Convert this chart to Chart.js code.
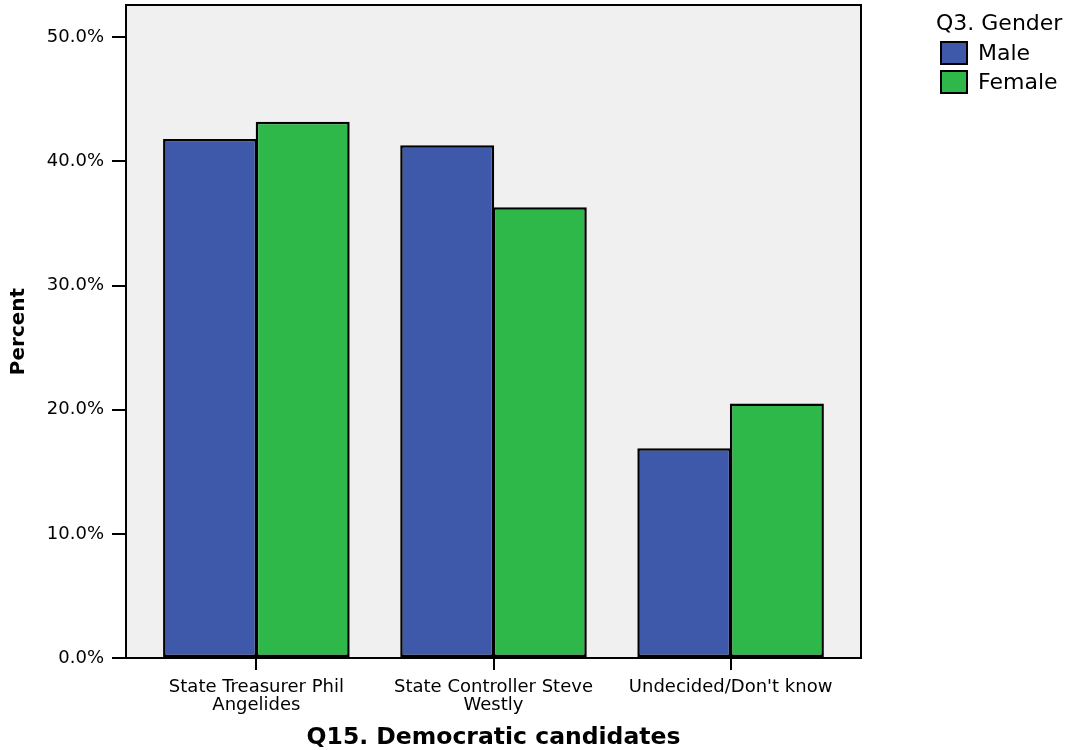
<!DOCTYPE html>
<html>
<head>
<meta charset="utf-8">
<script src="https://cdn.jsdelivr.net/npm/chart.js@4.4.1/dist/chart.umd.min.js"></script>
<style>
  body { margin: 0; background: #fff; }
  canvas { display: block; }
</style>
</head>
<body>
<canvas id="chart" width="1071" height="750"></canvas>
<script>
// data (percent)
const categories = [
  ['State Treasurer Phil', 'Angelides'],
  ['State Controller Steve', 'Westly'],
  "Undecided/Don't know"
];
const maleValues = [41.8, 41.3, 16.9];
const femaleValues = [43.2, 36.3, 20.5];
const yTicks = [0, 10, 20, 30, 40, 50];
const seriesNames = ['Male', 'Female'];
const legendTitle = 'Q3. Gender';

const BLUE = '#3E58AA';
const GREEN = '#2FB84A';
const FONT = "'DejaVu Sans', sans-serif";

// plot background, frame and legend
const frame = {
  id: 'frame',
  beforeDraw(chart) {
    const { ctx, chartArea: a } = chart;
    ctx.save();
    ctx.fillStyle = '#F0F0F0';
    ctx.fillRect(a.left, a.top, a.right - a.left, a.bottom - a.top);
    ctx.restore();
  },
  afterDraw(chart) {
    const { ctx, chartArea: a } = chart;
    ctx.save();
    ctx.strokeStyle = '#000';
    ctx.lineWidth = 2;
    ctx.strokeRect(a.left, a.top, a.right - a.left, a.bottom - a.top);

    ctx.font = '22px ' + FONT;
    ctx.fillStyle = '#000';
    ctx.textBaseline = 'middle';
    ctx.fillText(legendTitle, 936, 24);
    const colors = [BLUE, GREEN];
    seriesNames.forEach((name, i) => {
      const y = 42 + i * 29;
      ctx.fillStyle = colors[i];
      ctx.fillRect(941, y, 26, 22);
      ctx.strokeRect(941, y, 26, 22);
      ctx.fillStyle = '#000';
      ctx.fillText(name, 978, y + 12);
    });
    ctx.restore();
  }
};

const toPoints = arr => arr.map((y, i) => ({ x: i, y }));

new Chart(document.getElementById('chart'), {
  type: 'bar',
  data: {
    datasets: [
      { label: seriesNames[0], data: toPoints(maleValues), backgroundColor: BLUE },
      { label: seriesNames[1], data: toPoints(femaleValues), backgroundColor: GREEN }
    ]
  },
  options: {
    responsive: false,
    animation: false,
    layout: { padding: { top: 5, right: 210, left: 0, bottom: 0 } },
    datasets: {
      bar: {
        borderColor: '#000',
        borderWidth: 2.5,
        borderSkipped: false,
        categoryPercentage: 0.781,
        barPercentage: 1.015
      }
    },
    plugins: {
      legend: { display: false },
      tooltip: { enabled: false }
    },
    scales: {
      x: {
        type: 'linear',
        min: -0.55,
        max: 2.55,
        offset: false,
        afterFit: s => { s.height = 92; s.paddingLeft = 0; s.paddingRight = 0; },
        afterBuildTicks: s => { s.ticks = categories.map((c, i) => ({ value: i })); },
        grid: { offset: false, drawOnChartArea: false, drawTicks: true, tickLength: 12, color: '#000', lineWidth: 2 },
        border: { color: '#000', width: 2 },
        ticks: {
          color: '#000',
          font: { family: FONT, size: 18, lineHeight: 1.0 },
          padding: 8,
          maxRotation: 0,
          autoSkip: false,
          callback: v => categories[v]
        },
        title: {
          display: true,
          text: 'Q15. Democratic candidates',
          color: '#000',
          font: { family: FONT, size: 23.5, weight: 'bold', lineHeight: 1.0 },
          padding: { top: 0, bottom: 0 }
        }
      },
      y: {
        min: 0,
        max: 52.6,
        afterFit: s => { s.width = 126; s.paddingTop = 0; s.paddingBottom = 0; },
        afterBuildTicks: s => { s.ticks = yTicks.map(v => ({ value: v })); },
        grid: { drawOnChartArea: false, drawTicks: true, tickLength: 14, color: '#000', lineWidth: 2 },
        border: { color: '#000', width: 2 },
        ticks: {
          color: '#000',
          font: { family: FONT, size: 18 },
          padding: 8,
          callback: v => v.toFixed(1) + '%'
        },
        title: {
          display: true,
          text: 'Percent',
          color: '#000',
          font: { family: FONT, size: 20, weight: 'bold' },
          padding: { top: 7, bottom: 0 }
        }
      }
    }
  },
  plugins: [frame]
});
</script>
</body>
</html>
